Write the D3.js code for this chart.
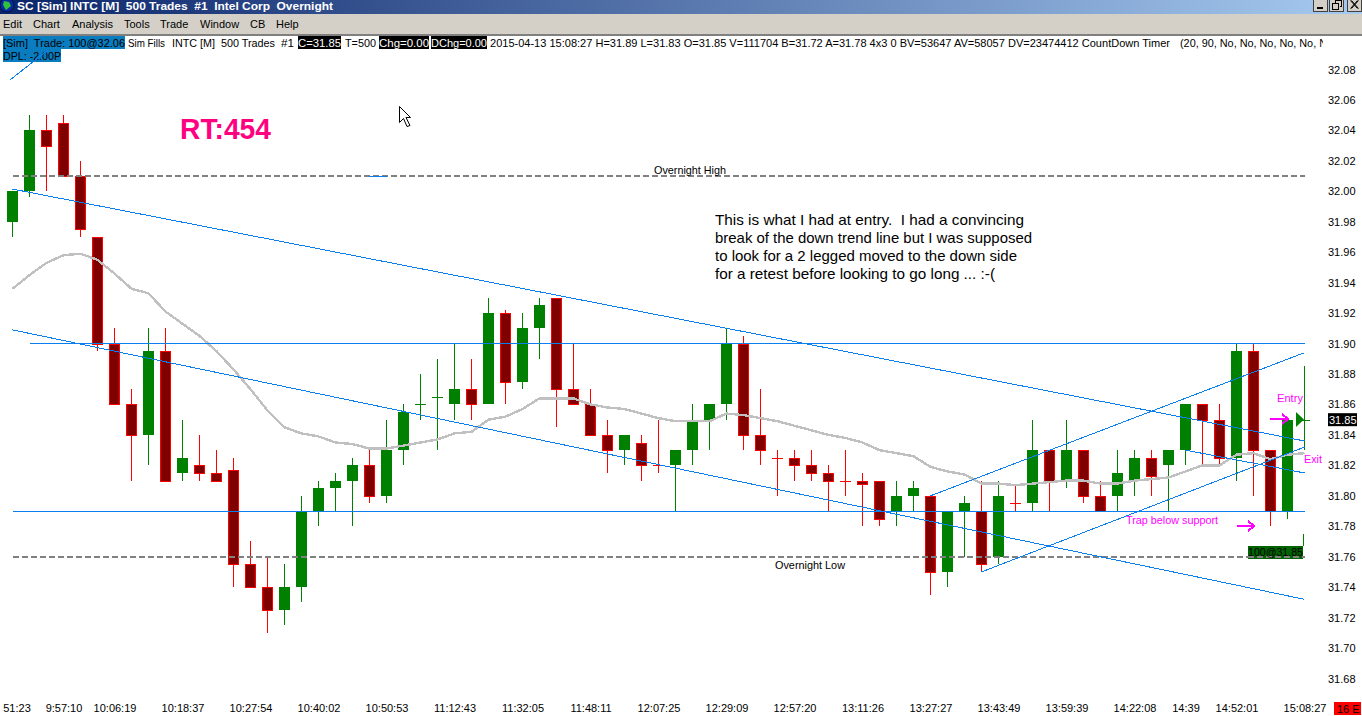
<!DOCTYPE html>
<html>
<head>
<meta charset="utf-8">
<script src="https://cdnjs.cloudflare.com/ajax/libs/d3/7.8.5/d3.min.js"></script>
<style>
  html, body { margin: 0; padding: 0; background: #fff; overflow: hidden; }
  svg { display: block; }
  text { font-family: "Liberation Sans", Arial, sans-serif; font-size: 11px; }
</style>
</head>
<body>
<script>
// candle values, one per bar
var opens = [31.98,32.00,32.04,32.045,32.01,31.97,31.90,31.86,31.84,31.895,31.815,31.82,31.815,31.817,31.755,31.74,31.725,31.74,31.79,31.805,
  31.81,31.82,31.80,31.83,31.86,31.865,31.86,31.87,31.86,31.92,31.875,31.91,31.93,31.87,31.86,31.84,31.83,31.835,31.82,31.82,
  31.83,31.85,31.86,31.90,31.84,31.825,31.825,31.82,31.815,31.81,31.81,31.81,31.79,31.80,31.80,31.75,31.79,31.79,31.76,31.795,
  31.795,31.83,31.81,31.83,31.80,31.80,31.81,31.825,31.82,31.83,31.86,31.85,31.825,31.895,31.83,31.79,31.85];
var closes = [32.00,32.04,32.03,32.01,31.975,31.90,31.86,31.84,31.895,31.81,31.825,31.815,31.81,31.755,31.74,31.725,31.74,31.79,31.805,31.81,
  31.82,31.80,31.83,31.855,31.86,31.865,31.87,31.86,31.92,31.875,31.91,31.925,31.87,31.86,31.84,31.83,31.84,31.82,31.82,31.83,
  31.85,31.86,31.90,31.84,31.83,31.825,31.82,31.815,31.81,31.81,31.808,31.785,31.80,31.805,31.75,31.79,31.795,31.755,31.80,31.795,
  31.83,31.81,31.83,31.80,31.79,31.815,31.825,31.813,31.83,31.86,31.85,31.825,31.895,31.83,31.79,31.85,31.85];
var highs = [32.00,32.05,32.05,32.05,32.02,31.97,31.91,31.87,31.91,31.91,31.85,31.84,31.83,31.825,31.77,31.76,31.755,31.80,31.81,31.815,
  31.825,31.83,31.85,31.86,31.88,31.89,31.90,31.89,31.93,31.922,31.92,31.93,31.93,31.90,31.87,31.85,31.84,31.84,31.85,31.83,
  31.86,31.86,31.91,31.905,31.87,31.83,31.83,31.83,31.82,31.83,31.815,31.81,31.81,31.81,31.80,31.79,31.80,31.81,31.81,31.807,
  31.85,31.83,31.85,31.83,31.81,31.83,31.83,31.83,31.83,31.86,31.86,31.86,31.90,31.90,31.83,31.85,31.885];
var lows = [31.97,31.996,32.00,32.01,31.97,31.895,31.86,31.81,31.82,31.81,31.81,31.81,31.81,31.74,31.74,31.71,31.715,31.73,31.78,31.79,
  31.78,31.795,31.795,31.82,31.85,31.83,31.85,31.85,31.86,31.86,31.87,31.89,31.845,31.86,31.84,31.815,31.82,31.81,31.815,31.79,
  31.82,31.83,31.85,31.83,31.82,31.80,31.81,31.81,31.79,31.80,31.78,31.78,31.78,31.79,31.735,31.74,31.76,31.75,31.755,31.79,
  31.79,31.79,31.805,31.795,31.79,31.79,31.80,31.80,31.79,31.82,31.82,31.82,31.81,31.80,31.78,31.785,31.83];

// grey moving average, one per bar
var average = [31.936,31.945,31.953,31.958,31.959,31.955,31.946,31.936,31.933,31.921,31.913,31.905,31.895,31.883,31.870,31.856,31.845,31.841,31.839,31.835,
  31.834,31.831,31.831,31.833,31.835,31.837,31.841,31.842,31.850,31.852,31.857,31.864,31.864,31.864,31.860,31.858,31.857,31.854,31.851,31.849,
  31.849,31.849,31.854,31.853,31.851,31.849,31.846,31.843,31.840,31.838,31.835,31.830,31.828,31.826,31.819,31.816,31.814,31.808,31.808,31.807,
  31.808,31.809,31.810,31.810,31.808,31.808,31.810,31.811,31.812,31.816,31.820,31.820,31.827,31.828,31.824,31.827,31.828];

var priceTicks = [32.08,32.06,32.04,32.02,32.00,31.98,31.96,31.94,31.92,31.90,31.88,31.86,31.84,31.82,31.80,31.78,31.76,31.74,31.72,31.70,31.68];
var timeTickBars = [0,3,6,10,14,18,22,26,30,34,38,42,46,50,54,58,62,66,69,72,76];
var timeLabels = ["51:23","9:57:10","10:06:19","10:18:37","10:27:54","10:40:02","10:50:53","11:12:43","11:32:05","11:48:11","12:07:25","12:29:09","12:57:20","13:11:26","13:27:27","13:43:49","13:59:39","14:22:08","14:39","14:52:01","15:08:27"];

// trend lines as [bar, price, bar, price]
var trendLines = [
  [-0.01, 32.0015, 76, 31.836],
  [-0.01, 31.909, 76, 31.732],
  [54, 31.800, 76, 31.894],
  [57, 31.750, 76, 31.832],
  [69, 31.83, 76, 31.815]
];
var levelLines = [[1, 31.90], [0, 31.79]];
var dashedLevels = [32.01, 31.76];
var lastPrice = 31.85;

var menuItems = ["Edit","Chart","Analysis","Tools","Trade","Window","CB","Help"];
var menuX = [3,33,72,124,160,200,250,276];
var noteLines = ["This is what I had at entry.  I had a convincing","break of the down trend line but I was supposed","to look for a 2 legged moved to the down side","for a retest before looking to go long ... :-("];

var W = 1362, H = 716;
var upColor = "#008000", downColor = "#ff0000", downFill = "#800000", lineBlue = "#0a80f0";

var svg = d3.select("body").append("svg").attr("width", W).attr("height", H);

var x = d3.scaleLinear().domain([0, 76]).range([12.5, 1304.5]);
var y = d3.scaleLinear().domain([32.08, 31.68]).range([69.5, 678.5]);

// window chrome
var defs = svg.append("defs");
var grad = defs.append("linearGradient").attr("id", "titlebar");
grad.append("stop").attr("offset", "0%").attr("stop-color", "#0a246a");
grad.append("stop").attr("offset", "100%").attr("stop-color", "#a6caf0");
defs.append("clipPath").attr("id", "stripclip").append("rect").attr("width", 1323).attr("height", H);
svg.append("rect").attr("width", W).attr("height", 14).attr("fill", "url(#titlebar)");
svg.append("rect").attr("y", 14).attr("width", W).attr("height", 20).attr("fill", "#d4d0c8");
svg.append("rect").attr("y", 34).attr("width", W).attr("height", 2).attr("fill", "#808080");
svg.append("circle").attr("cx", 7).attr("cy", 5).attr("r", 7).attr("fill", "#0a2a9a").attr("stroke", "#001050");
svg.append("path").attr("d", "M4 1L9 2L11 6L6 10L3 5Z").attr("fill", "#30c040");
svg.append("text").attr("x", 17).attr("y", 9.5).attr("fill", "#fff").attr("font-weight", "bold")
  .attr("textLength", 316).attr("lengthAdjust", "spacingAndGlyphs").style("white-space", "pre")
  .text("SC [Sim] INTC [M]  500 Trades  #1  Intel Corp  Overnight");

// caption buttons
[1313, 1329, 1347].forEach(function(bx) {
  svg.append("rect").attr("x", bx + 0.5).attr("y", -2).attr("width", 14).attr("height", 13.5)
    .attr("fill", "#d4d0c8").attr("stroke", "#404040").attr("shape-rendering", "crispEdges");
});
var glyphs = svg.append("g").attr("fill", "none").attr("stroke", "#000").attr("shape-rendering", "crispEdges");
glyphs.append("rect").attr("x", 1317).attr("y", 7).attr("width", 6).attr("height", 2).attr("fill", "#000").attr("stroke", "none");
glyphs.append("path").attr("d", "M1335.5 3.5V0.5H1341.5V6.5H1339.5M1332.5 3.5H1338.5V9.5H1332.5Z");
glyphs.append("path").attr("d", "M1350.5 0.5L1357.5 8.5M1351.5 0.5L1358.5 8.5M1357.5 0.5L1350.5 8.5M1358.5 0.5L1351.5 8.5").attr("shape-rendering", "auto");

svg.selectAll(".menu").data(menuItems).enter().append("text").attr("class", "menu")
  .attr("x", function(d, i) { return menuX[i]; }).attr("y", 28).attr("fill", "#000").text(function(d) { return d; });

// status strip above the chart
var strip = [
  [3, 122, 36, 13, "#0a7cc0", "#000", "[Sim]  Trade: 100@32.06"],
  [3, 58, 49, 13, "#0a7cc0", "#000", "DPL: -2.00P"],
  [128, 37, 36, 13, null, "#000", "Sim Fills"],
  [172, 43, 36, 13, null, "#000", "INTC [M]"],
  [221, 54, 36, 13, null, "#000", "500 Trades"],
  [281, 13, 36, 13, null, "#000", "#1"],
  [298, 43, 36, 13, "#000", "#fff", "C=31.85"],
  [345, 31, 36, 13, null, "#000", "T=500"],
  [379, 50, 36, 13, "#000", "#fff", "Chg=0.00"],
  [431, 56, 36, 13, "#000", "#fff", "DChg=0.00"],
  [490, 680, 36, 13, null, "#000", "2015-04-13 15:08:27 H=31.89 L=31.83 O=31.85 V=111704 B=31.72 A=31.78 4x3 0 BV=53647 AV=58057 DV=23474412 CountDown Timer"],
  [1180, 147, 36, 13, null, "#000", "(20, 90, No, No, No, No, No, N"]
];
var stripLayer = svg.append("g").attr("clip-path", "url(#stripclip)");
strip.forEach(function(s) {
  if (s[4]) stripLayer.append("rect").attr("x", s[0]).attr("y", s[2]).attr("width", s[1]).attr("height", s[3]).attr("fill", s[4]);
  stripLayer.append("text").attr("x", s[0]).attr("y", s[2] + 11).attr("fill", s[5])
    .attr("textLength", s[1]).attr("lengthAdjust", "spacingAndGlyphs").style("white-space", "pre").text(s[6]);
});

var bars = d3.range(opens.length);
var chart = svg.append("g").attr("shape-rendering", "crispEdges");

function isDownDoji(i) { return i == 38 || i == 45 || i == 49 || i == 59; }
function isDown(i) { return closes[i] < opens[i] || isDownDoji(i); }

// wicks
chart.selectAll(".wick").data(bars).enter().append("line").attr("class", "wick")
  .attr("x1", function(i) { return Math.floor(x(i)) + 0.5; })
  .attr("x2", function(i) { return Math.floor(x(i)) + 0.5; })
  .attr("y1", function(i) { return Math.round(y(highs[i])); })
  .attr("y2", function(i) { return Math.round(y(lows[i])); })
  .attr("stroke", function(i) { return isDown(i) ? downColor : upColor; });

// bodies
var solid = bars.filter(function(i) { return Math.abs(y(opens[i]) - y(closes[i])) >= 1; });
chart.selectAll(".body").data(solid).enter().append("rect").attr("class", "body")
  .attr("x", function(i) { return Math.floor(x(i)) - 5 + (isDown(i) ? 0.5 : 0); })
  .attr("width", function(i) { return isDown(i) ? 10 : 11; })
  .attr("y", function(i) { return Math.round(y(Math.max(opens[i], closes[i]))) + (isDown(i) ? 0.5 : 0); })
  .attr("height", function(i) { return Math.abs(Math.round(y(opens[i])) - Math.round(y(closes[i]))); })
  .attr("fill", function(i) { return isDown(i) ? downFill : upColor; })
  .attr("stroke", function(i) { return isDown(i) ? downColor : "none"; });

// flat bars are just a tick across the wick
var flat = bars.filter(function(i) { return Math.abs(y(opens[i]) - y(closes[i])) < 1; });
chart.selectAll(".flat").data(flat).enter().append("line").attr("class", "flat")
  .attr("x1", function(i) { return Math.floor(x(i)) - 5; })
  .attr("x2", function(i) { return Math.floor(x(i)) + 6; })
  .attr("y1", function(i) { return Math.round(y(closes[i])) + 0.5; })
  .attr("y2", function(i) { return Math.round(y(closes[i])) + 0.5; })
  .attr("stroke", function(i) { return isDown(i) ? downColor : upColor; });

// moving average
var avgLine = d3.line().x(function(d, i) { return x(i); }).y(function(d) { return y(d); });
chart.append("path").datum(average).attr("d", avgLine).attr("fill", "none").attr("stroke", "#c0c0c0").attr("stroke-width", 2.4);

// overnight levels
chart.selectAll(".night").data(dashedLevels).enter().append("line").attr("class", "night")
  .attr("x1", x(0)).attr("x2", x(76))
  .attr("y1", function(d) { return y(d); }).attr("y2", function(d) { return y(d); })
  .attr("stroke", "#808080").attr("stroke-width", 2).attr("stroke-dasharray", "6,3");

// support and resistance
chart.selectAll(".level").data(levelLines).enter().append("line").attr("class", "level")
  .attr("x1", function(d) { return x(d[0]); }).attr("x2", x(76))
  .attr("y1", function(d) { return y(d[1]); }).attr("y2", function(d) { return y(d[1]); })
  .attr("stroke", lineBlue);

chart.selectAll(".trend").data(trendLines).enter().append("line").attr("class", "trend")
  .attr("x1", function(d) { return x(d[0]); }).attr("y1", function(d) { return y(d[1]); })
  .attr("x2", function(d) { return x(d[2]); }).attr("y2", function(d) { return y(d[3]); })
  .attr("stroke", lineBlue);

// stray drawings
chart.append("line").attr("x1", 10).attr("y1", 80).attr("x2", 48).attr("y2", 50).attr("stroke", lineBlue);
chart.append("line").attr("x1", 369).attr("y1", 176).attr("x2", 387).attr("y2", 176).attr("stroke", lineBlue);

// axes
var yAxis = d3.axisRight(y).tickValues(priceTicks).tickFormat(d3.format(".2f")).tickSize(0).tickPadding(0);
var gy = svg.append("g").attr("transform", "translate(1328,0)").call(yAxis);
var xAxis = d3.axisBottom(x).tickValues(timeTickBars).tickFormat(function(d, i) { return timeLabels[i]; }).tickSize(0).tickPadding(0);
var gx = svg.append("g").attr("transform", "translate(0,704)").call(xAxis);
gy.select(".domain").remove();
gx.select(".domain").remove();
svg.selectAll(".tick text").attr("fill", "#000").style("font-size", "11px").style("font-family", "'Liberation Sans', Arial, sans-serif");
gx.select(".tick text").attr("dx", 4);

// last price box
svg.append("rect").attr("x", 1328).attr("y", y(lastPrice) - 6.5).attr("width", 29).attr("height", 13).attr("fill", "#000");
svg.append("text").attr("x", 1329).attr("y", y(lastPrice) + 4).attr("fill", "#fff").text(lastPrice.toFixed(2));

// estimated end time box
svg.append("rect").attr("x", 1334).attr("y", 702).attr("width", 27).attr("height", 13).attr("fill", "#ff0000");
svg.append("text").attr("x", 1337).attr("y", 712.5).attr("fill", "#000").text("16 E");

// annotations
svg.append("text").attr("x", 180).attr("y", 139).attr("fill", "#ff0080").attr("font-weight", "bold")
  .style("font-size", "29px").attr("textLength", 91).attr("lengthAdjust", "spacingAndGlyphs").text("RT:454");
svg.append("text").attr("x", 654).attr("y", 174).attr("fill", "#000").attr("textLength", 72).attr("lengthAdjust", "spacingAndGlyphs").text("Overnight High");
svg.append("text").attr("x", 775).attr("y", 569).attr("fill", "#000").attr("textLength", 70).attr("lengthAdjust", "spacingAndGlyphs").text("Overnight Low");
var noteEnds = [309, 317, 302, 280];
svg.selectAll(".note").data(noteLines).enter().append("text").attr("class", "note")
  .attr("x", 715).attr("y", function(d, i) { return 225 + i * 18; }).attr("fill", "#000")
  .style("font-size", "14.5px").style("white-space", "pre")
  .attr("textLength", function(d, i) { return noteEnds[i]; }).attr("lengthAdjust", "spacingAndGlyphs")
  .text(function(d) { return d; });

var magenta = "#ff00ff";
svg.append("text").attr("x", 1277).attr("y", 402).attr("fill", magenta).attr("textLength", 26).attr("lengthAdjust", "spacingAndGlyphs").text("Entry");
svg.append("text").attr("x", 1304).attr("y", 463).attr("fill", magenta).attr("textLength", 18).attr("lengthAdjust", "spacingAndGlyphs").text("Exit");
svg.append("text").attr("x", 1126).attr("y", 524).attr("fill", magenta).attr("textLength", 92).attr("lengthAdjust", "spacingAndGlyphs").text("Trap below support");
function arrow(x0, y0, len) {
  svg.append("path").attr("d", "M" + x0 + " " + y0 + "H" + (x0 + len) + "M" + (x0 + len - 6) + " " + (y0 - 5) + "L" + (x0 + len) + " " + y0 + "L" + (x0 + len - 6) + " " + (y0 + 5))
    .attr("fill", "none").attr("stroke", magenta).attr("stroke-width", 2).attr("shape-rendering", "crispEdges");
}
arrow(1270, 419, 18);
arrow(1237, 526, 17);

// entry marker on the last bar
svg.append("path").attr("d", "M1296 412L1304 419.5L1296 427Z").attr("fill", upColor);

// open order tag
svg.append("rect").attr("x", 1248).attr("y", 546).attr("width", 55).attr("height", 13).attr("fill", "#006400");
svg.append("line").attr("x1", 1303.5).attr("x2", 1303.5).attr("y1", 534).attr("y2", 546).attr("stroke", upColor);
svg.append("line").attr("x1", 1248).attr("x2", x(76)).attr("y1", y(31.76)).attr("y2", y(31.76))
  .attr("stroke", "#808080").attr("stroke-width", 2).attr("stroke-dasharray", "6,3").attr("shape-rendering", "crispEdges");
svg.append("text").attr("x", 1248).attr("y", 556).attr("fill", "#000").attr("textLength", 55).attr("lengthAdjust", "spacingAndGlyphs").text("100@31.85");

// mouse pointer
svg.append("path").attr("d", "M399.5 106.5V122.5L403.5 118.5L407 126.5L410 125.5L406 117.5H410.5Z").attr("fill", "#fff").attr("stroke", "#000");
</script>
</body>
</html>
